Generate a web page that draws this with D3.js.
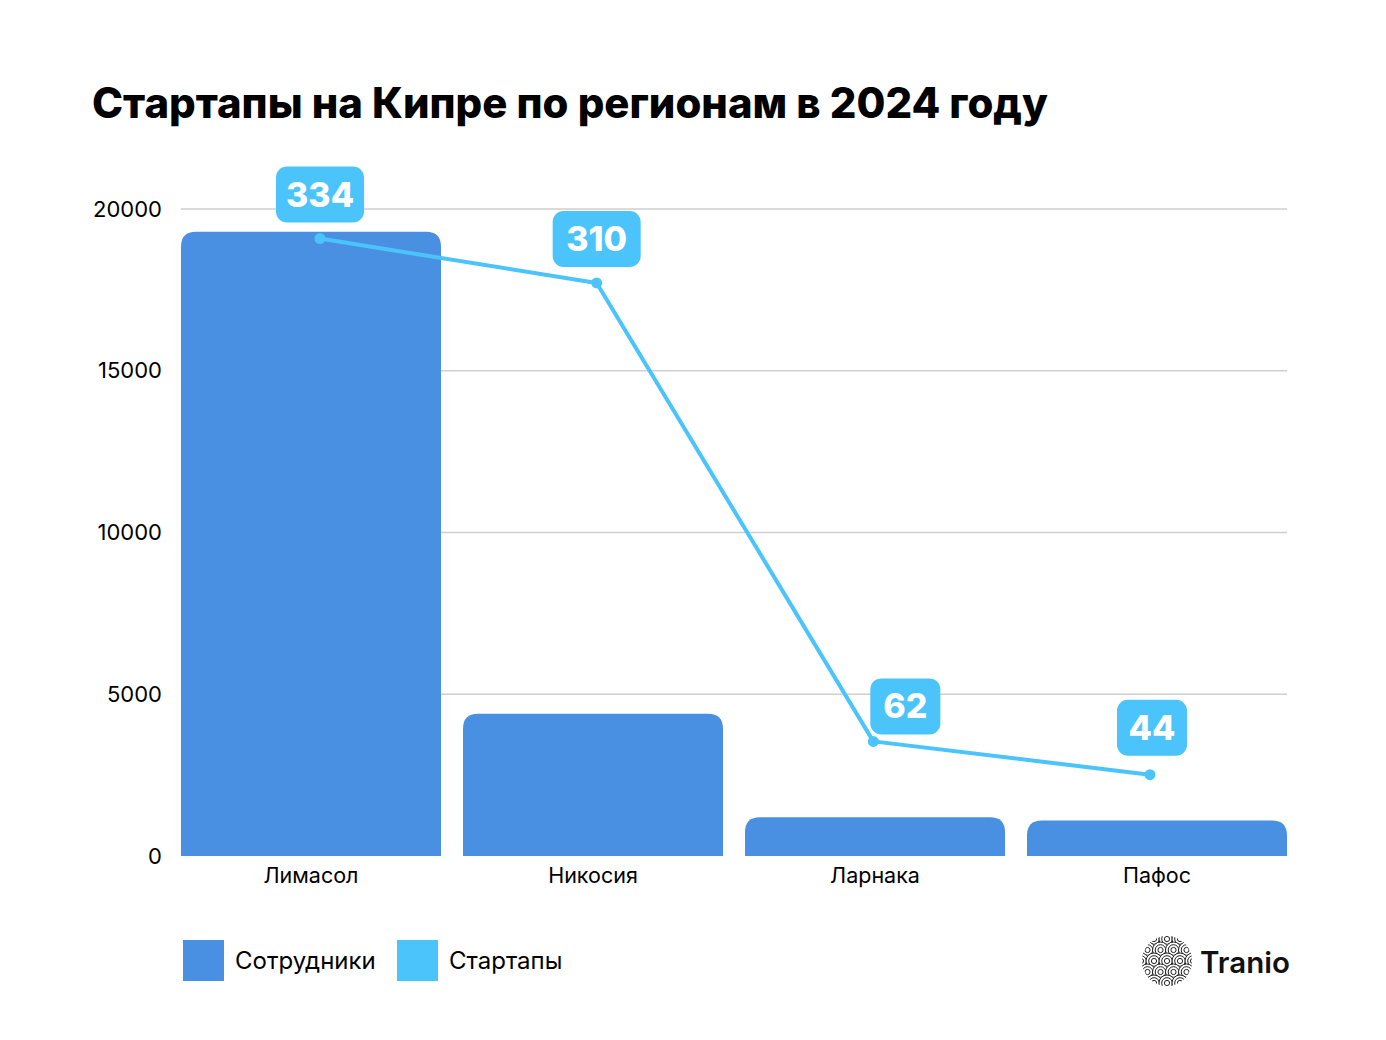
<!DOCTYPE html>
<html>
<head>
<meta charset="utf-8">
<title>Стартапы на Кипре</title>
<script src="https://cdn.jsdelivr.net/npm/d3@7"></script>
<style>
  body { margin: 0; background: #fff; }
  svg text { font-family: Inter, "Noto Sans", sans-serif; }
</style>
</head>
<body>
<svg id="chart" width="1386" height="1040"></svg>
<script>
// data
const regions = ["Лимасол", "Никосия", "Ларнака", "Пафос"];
const employees = [19300, 4400, 1200, 1100];
const startups = [334, 310, 62, 44];
const yTicks = [0, 5000, 10000, 15000, 20000];
const legendNames = ["Сотрудники", "Стартапы"];
// small nudges for the value boxes (dx, dy)
const labelNudge = [[0, 0], [0, 0], [32, 9], [2, -3]];

const barColor = "#4a90e2";
const lineColor = "#4bc4fb";

const svg = d3.select("#chart");
const plotLeft = 181, plotRight = 1287, plotTop = 209, plotBottom = 856;

// title
const title = svg.append("text")
  .attr("x", 92).attr("y", 118)
  .style("font-size", "40px").style("font-weight", 800)
  .attr("fill", "#000")
  .text("Стартапы на Кипре по регионам в 2024 году");
// fit title width to the original
const tw = title.node().getComputedTextLength();
title.style("font-size", (40 * 956 / tw) + "px");

const x = d3.scaleBand().domain(regions).range([plotLeft, plotRight]).paddingInner(0.078).paddingOuter(0);
const y = d3.scaleLinear().domain([0, 20000]).range([plotBottom, plotTop]);
const y2 = d3.scaleLinear().domain([0, 350]).range([plotBottom, plotTop]);
const xLine = d3.scalePoint().domain(regions).range([320, 1150]);

// grid
svg.append("g").selectAll("line").data(yTicks.filter(d => d > 0)).join("line")
  .attr("x1", plotLeft).attr("x2", plotRight)
  .attr("y1", d => y(d)).attr("y2", d => y(d))
  .attr("stroke", "#cfcfcf").attr("stroke-width", 1.5);

// y axis labels
const yAxis = svg.append("g")
  .attr("transform", `translate(${plotLeft - 19},0)`)
  .call(d3.axisLeft(y).tickValues(yTicks).tickFormat(d3.format("d")).tickSize(0).tickPadding(0));
yAxis.select(".domain").remove();
yAxis.selectAll("text").style("font-size", "22px").attr("fill", "#000")
  .style("font-family", "Inter, 'Noto Sans', sans-serif");

// bars with rounded tops
const r = 15;
function barPath(x0, w, yTop, yBot) {
  const rr = Math.min(r, (yBot - yTop));
  return `M${x0},${yBot}V${yTop + rr}Q${x0},${yTop} ${x0 + rr},${yTop}H${x0 + w - rr}Q${x0 + w},${yTop} ${x0 + w},${yTop + rr}V${yBot}Z`;
}
svg.append("g").selectAll("path").data(regions).join("path")
  .attr("d", (d, i) => barPath(x(d), x.bandwidth(), y(employees[i]), y(0)))
  .attr("fill", barColor);

// category labels
const xAxis = svg.append("g")
  .attr("transform", `translate(0,${plotBottom})`)
  .call(d3.axisBottom(x).tickSize(0).tickPadding(12));
xAxis.select(".domain").remove();
xAxis.selectAll("text").style("font-size", "21.5px").attr("fill", "#000")
  .style("font-family", "Inter, 'Noto Sans', sans-serif");

// startups line
const line = d3.line().x((d, i) => xLine(regions[i])).y(d => y2(d));
svg.append("path").datum(startups)
  .attr("d", line).attr("fill", "none")
  .attr("stroke", lineColor).attr("stroke-width", 4).attr("stroke-linejoin", "round");
svg.append("g").selectAll("circle").data(startups).join("circle")
  .attr("cx", (d, i) => xLine(regions[i])).attr("cy", d => y2(d)).attr("r", 5.5)
  .attr("fill", lineColor);

// value boxes
const lab = svg.append("g").selectAll("g").data(startups).join("g")
  .attr("transform", (d, i) => `translate(${xLine(regions[i]) + labelNudge[i][0]},${y2(d) - 16 + labelNudge[i][1]})`);
lab.append("rect")
  .attr("x", d => -(String(d).length > 2 ? 44 : 35))
  .attr("width", d => String(d).length > 2 ? 88 : 70)
  .attr("y", -56).attr("height", 56).attr("rx", 11)
  .attr("fill", lineColor);
lab.append("text")
  .attr("text-anchor", "middle").attr("y", -16)
  .style("font-size", "34px").style("font-weight", 800)
  .attr("fill", "#fff")
  .text(d => d);

// legend
const leg = svg.append("g").selectAll("g").data(legendNames).join("g")
  .attr("transform", (d, i) => `translate(${183 + i * 214},940)`);
leg.append("rect").attr("width", 41).attr("height", 41)
  .attr("fill", (d, i) => i === 0 ? barColor : lineColor);
leg.append("text").attr("x", 52).attr("y", 29)
  .style("font-size", "24px").attr("fill", "#000")
  .text(d => d);

// Tranio logo: circle filled with small swirl rings
svg.append("defs").append("clipPath").attr("id", "logoClip")
  .append("circle").attr("cx", 1167).attr("cy", 961).attr("r", 25);
const swirls = svg.append("g").attr("clip-path", "url(#logoClip)");
for (let row = -3; row <= 3; row++) {
  for (let col = -3; col <= 3; col++) {
    const cx = 1167 + col * 13 + (row % 2 ? 6.5 : 0);
    const cy = 961 + row * 11;
    [8, 5.3, 2.6].forEach(rad => {
      swirls.append("circle").attr("cx", cx).attr("cy", cy).attr("r", rad)
        .attr("fill", rad === 8 ? "#fff" : "none")
        .attr("stroke", "#222").attr("stroke-width", 1);
    });
  }
}
svg.append("text").attr("x", 1200).attr("y", 973)
  .style("font-size", "29.5px").style("font-weight", 600).attr("fill", "#111")
  .text("Tranio");
</script>
</body>
</html>
